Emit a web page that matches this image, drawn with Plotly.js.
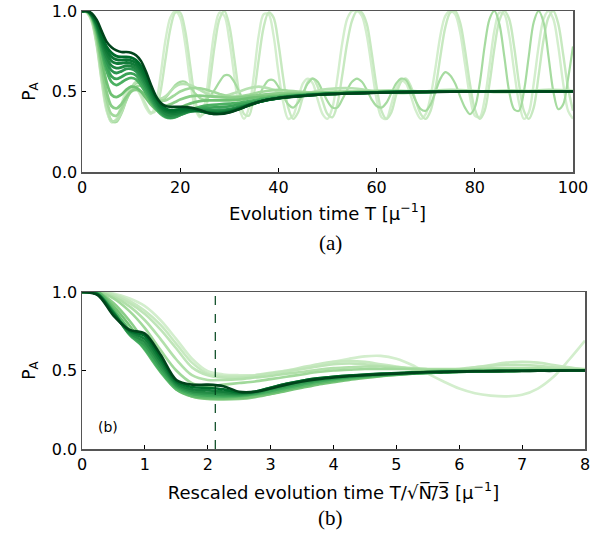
<!DOCTYPE html>
<html>
<head>
<meta charset="utf-8">
<script src="https://cdn.plot.ly/plotly-3.0.1.min.js"></script>
<style>html,body{margin:0;padding:0;background:#fff;}#chart{width:613px;height:539px;}</style>
</head>
<body>
<div id="chart"></div>
<script>
// ---------------- Panel (a): evolution time T ----------------
const tA = [0,1,2,3,4,5,6,7,8,9,10,11,12,13,14,15,16,17,18,19,20,
  22,24,26,28,30,32,34,36,38,40,42,44,46,48,50,
  55,60,65,70,75,80,85,90,95,100];
const tAfine = Array.from({length: 101}, (_, i) => i);

const aL1 = [1.0,0.99,0.93,0.78,0.56,0.38,0.31,0.33,0.42,0.5,
  0.53,0.52,0.47,0.4,0.36,0.42,0.6,0.82,0.96,1.0,
  0.96,0.8,0.57,0.4,0.34,0.42,0.65,0.88,0.99,0.97,
  0.82,0.6,0.4,0.33,0.4,0.6,0.85,0.98,0.98,0.85,
  0.62,0.43,0.33,0.35,0.45,0.55,0.58,0.55,0.45,0.36,
  0.33,0.4,0.58,0.8,0.95,1.0,1.0,0.97,0.85,0.65,
  0.45,0.34,0.33,0.42,0.52,0.57,0.55,0.47,0.38,0.33,
  0.36,0.47,0.65,0.85,0.97,1.0,0.98,0.87,0.67,0.47,
  0.35,0.34,0.45,0.66,0.88,0.99,0.98,0.85,0.63,0.43,
  0.33,0.37,0.55,0.78,0.95,1.0,0.95,0.78,0.55,0.38,
  0.33];
const aL2 = [1,0.99,0.935,0.79,0.57,0.39,0.31,0.32,0.4,0.48,
  0.52,0.52,0.48,0.42,0.37,0.38,0.5,0.7,0.89,0.99,
  0.99,0.88,0.67,0.46,0.35,0.37,0.55,0.78,0.95,1.0,
  0.91,0.71,0.49,0.36,0.35,0.48,0.7,0.9,0.99,0.96,
  0.8,0.58,0.4,0.33,0.37,0.47,0.56,0.58,0.53,0.44,
  0.36,0.34,0.42,0.6,0.8,0.94,1.0,0.99,0.92,0.74,
  0.53,0.38,0.33,0.37,0.48,0.56,0.58,0.53,0.44,0.36,
  0.33,0.38,0.52,0.72,0.9,0.99,1.0,0.93,0.76,0.55,
  0.39,0.33,0.38,0.55,0.77,0.94,1.0,0.95,0.78,0.55,
  0.38,0.33,0.4,0.6,0.82,0.96,1.0,0.92,0.73,0.52,
  0.38];
const aL3 = [1,0.99,0.94,0.8,0.6,0.42,0.32,0.31,0.36,0.44,
  0.51,0.55,0.55,0.52,0.48,0.45,0.44,0.46,0.5,0.54,
  0.56,0.56,0.53,0.49,0.46,0.45,0.47,0.51,0.56,0.6,
  0.6,0.56,0.5,0.44,0.41,0.42,0.47,0.53,0.57,0.57,
  0.53,0.47,0.42,0.4,0.43,0.49,0.55,0.58,0.56,0.5,
  0.44,0.4,0.4,0.45,0.51,0.56,0.58,0.56,0.51,0.45,
  0.41,0.4,0.43,0.49,0.55,0.58,0.57,0.51,0.44,0.39,
  0.38,0.42,0.5,0.58,0.62,0.6,0.55,0.47,0.4,0.36,
  0.4,0.55,0.78,0.95,1.0,0.92,0.72,0.5,0.39,0.38,
  0.5,0.72,0.93,1.0,0.93,0.72,0.5,0.39,0.42,0.58,
  0.78];

const aC1 = [1,1,0.945,0.8,0.59,0.41,0.32,0.32,0.37,0.45,0.52,0.56,0.56,0.53,0.49,0.46,0.455,0.47,0.5,0.53,0.545,
  0.54,0.51,0.48,0.47,0.48,0.5,0.52,0.53,0.52,0.5,0.485,0.48,0.49,0.505,0.515,
  0.52,0.5,0.49,0.5,0.51,0.505,0.495,0.5,0.51,0.505];
const aC2 = [1,1,0.95,0.82,0.62,0.45,0.36,0.35,0.39,0.45,0.5,0.53,0.535,0.52,0.49,0.46,0.445,0.445,0.46,0.48,0.5,
  0.52,0.52,0.505,0.485,0.47,0.47,0.48,0.495,0.505,0.51,0.505,0.5,0.495,0.495,0.498,
  0.5,0.505,0.505,0.5,0.5,0.5,0.505,0.505,0.5,0.5];
const aC3 = [1,1,0.955,0.84,0.66,0.5,0.41,0.395,0.42,0.465,0.5,0.51,0.5,0.475,0.445,0.42,0.41,0.41,0.42,0.435,0.45,
  0.47,0.475,0.47,0.465,0.46,0.463,0.47,0.478,0.484,0.488,0.49,0.49,0.49,0.492,0.494,
  0.497,0.5,0.5,0.5,0.5,0.5,0.5,0.5,0.5,0.5];
const aC4 = [1,1,0.96,0.86,0.7,0.56,0.48,0.465,0.48,0.51,0.53,0.525,0.5,0.46,0.42,0.39,0.37,0.365,0.37,0.385,0.4,
  0.425,0.44,0.445,0.445,0.445,0.45,0.458,0.465,0.47,0.475,0.48,0.483,0.485,0.488,0.49,
  0.493,0.496,0.498,0.5,0.5,0.5,0.5,0.5,0.5,0.5];
const aC5 = [1,1,0.965,0.88,0.75,0.63,0.56,0.54,0.555,0.575,0.585,0.575,0.54,0.49,0.44,0.395,0.36,0.34,0.335,0.34,0.355,
  0.385,0.405,0.415,0.42,0.425,0.43,0.44,0.45,0.46,0.467,0.472,0.477,0.481,0.484,0.487,
  0.49,0.494,0.496,0.498,0.5,0.5,0.5,0.5,0.5,0.5];
const aC5b = [1,1,0.968,0.89,0.77,0.66,0.595,0.578,0.59,0.608,0.612,0.6,0.562,0.51,0.455,0.405,0.368,0.345,0.338,0.342,0.355,
  0.38,0.395,0.4,0.402,0.408,0.418,0.43,0.442,0.454,0.462,0.469,0.474,0.479,0.482,0.486,
  0.49,0.494,0.496,0.498,0.5,0.5,0.5,0.5,0.5,0.5];
const aC6 = [1,1,0.97,0.9,0.79,0.69,0.63,0.615,0.625,0.64,0.64,0.625,0.585,0.53,0.47,0.415,0.375,0.35,0.34,0.345,0.355,
  0.375,0.385,0.385,0.385,0.39,0.405,0.42,0.435,0.448,0.458,0.466,0.472,0.477,0.481,0.485,
  0.49,0.494,0.497,0.498,0.5,0.5,0.5,0.5,0.5,0.5];
const aC6b = [1,1,0.972,0.91,0.805,0.715,0.66,0.645,0.65,0.66,0.658,0.642,0.605,0.55,0.488,0.43,0.388,0.362,0.352,0.355,0.362,
  0.378,0.382,0.378,0.376,0.384,0.4,0.418,0.435,0.449,0.459,0.467,0.472,0.477,0.481,0.485,
  0.49,0.494,0.497,0.498,0.5,0.5,0.5,0.5,0.5,0.5];
const aC7 = [1,1,0.975,0.92,0.82,0.74,0.69,0.675,0.675,0.68,0.675,0.66,0.625,0.57,0.505,0.445,0.4,0.375,0.365,0.365,0.37,
  0.38,0.378,0.37,0.368,0.378,0.395,0.415,0.435,0.45,0.46,0.468,0.473,0.478,0.482,0.485,
  0.49,0.494,0.497,0.498,0.5,0.5,0.5,0.5,0.5,0.5];
const aC7b = [1,1,0.978,0.925,0.835,0.76,0.715,0.698,0.695,0.698,0.692,0.678,0.642,0.585,0.518,0.455,0.41,0.385,0.375,0.375,0.38,
  0.385,0.379,0.368,0.365,0.375,0.394,0.415,0.435,0.45,0.459,0.466,0.472,0.477,0.481,0.485,
  0.49,0.494,0.497,0.498,0.5,0.5,0.5,0.5,0.5,0.5];
const aC8 = [1,1,0.98,0.93,0.85,0.78,0.74,0.72,0.715,0.715,0.71,0.695,0.66,0.6,0.53,0.465,0.42,0.395,0.385,0.385,0.39,
  0.39,0.38,0.365,0.362,0.372,0.392,0.415,0.435,0.45,0.458,0.465,0.47,0.475,0.48,0.484,
  0.49,0.493,0.496,0.498,0.5,0.5,0.5,0.5,0.5,0.5];
const aC9 = [1,1,0.985,0.945,0.875,0.81,0.775,0.755,0.745,0.745,0.74,0.725,0.69,0.625,0.545,0.475,0.43,0.41,0.405,0.405,0.405,
  0.4,0.385,0.365,0.36,0.37,0.39,0.415,0.435,0.45,0.46,0.465,0.47,0.475,0.48,0.483,
  0.488,0.492,0.495,0.497,0.498,0.5,0.5,0.5,0.5,0.5];

// ---------------- Panel (b): rescaled time T/sqrt(N/3) ----------------
const tB = [0,0.25,0.5,0.75,1,1.25,1.5,1.75,2,2.25,2.5,2.75,3,3.25,3.5,3.75,4,
  4.25,4.5,4.75,5,5.25,5.5,5.75,6,6.25,6.5,6.75,7,7.25,7.5,7.75,8];
const bL1 = [1,1,0.99,0.96,0.91,0.82,0.7,0.575,0.495,0.475,0.47,0.47,0.48,0.495,0.51,0.53,0.555,
  0.575,0.59,0.593,0.575,0.535,0.48,0.43,0.385,0.355,0.34,0.335,0.345,0.385,0.46,0.57,0.69];
const bL2 = [1,1,0.985,0.945,0.88,0.79,0.67,0.55,0.48,0.465,0.465,0.47,0.485,0.5,0.52,0.54,0.555,
  0.56,0.555,0.54,0.525,0.51,0.5,0.5,0.505,0.52,0.535,0.55,0.555,0.55,0.535,0.52,0.505];
const bL3 = [1,1,0.98,0.93,0.86,0.76,0.64,0.52,0.47,0.455,0.455,0.465,0.48,0.495,0.51,0.525,0.54,
  0.545,0.54,0.53,0.52,0.51,0.505,0.505,0.51,0.52,0.53,0.535,0.535,0.53,0.52,0.515,0.51];
const bL4 = [1,1,0.97,0.91,0.82,0.7,0.57,0.47,0.44,0.44,0.445,0.455,0.465,0.48,0.49,0.505,0.515,
  0.52,0.525,0.525,0.52,0.515,0.51,0.51,0.51,0.51,0.515,0.515,0.515,0.515,0.51,0.51,0.505];
const bL5 = [1,1,0.96,0.88,0.77,0.63,0.5,0.42,0.4,0.41,0.42,0.43,0.445,0.46,0.475,0.49,0.5,
  0.505,0.51,0.51,0.51,0.508,0.505,0.505,0.505,0.505,0.505,0.505,0.505,0.505,0.505,0.505,0.505];
const bD9 = [1,1,0.93,0.82,0.68,0.52,0.39,0.335,0.318,0.315,0.318,0.33,0.35,0.375,0.4,0.42,0.435,
  0.45,0.46,0.47,0.48,0.49,0.495,0.5,0.5,0.502,0.502,0.502,0.502,0.502,0.502,0.502,0.502];
const bD8 = [1,1,0.91,0.79,0.65,0.5,0.38,0.335,0.322,0.32,0.325,0.335,0.35,0.37,0.39,0.41,0.425,
  0.44,0.452,0.463,0.472,0.48,0.486,0.49,0.494,0.497,0.498,0.5,0.5,0.5,0.5,0.5,0.5];
const bD7 = [1,1,0.89,0.76,0.63,0.49,0.38,0.34,0.33,0.33,0.335,0.345,0.36,0.38,0.4,0.42,0.435,
  0.448,0.458,0.466,0.473,0.479,0.484,0.488,0.491,0.494,0.496,0.497,0.498,0.499,0.5,0.5,0.5];
const bD6 = [1,0.99,0.875,0.73,0.64,0.5,0.39,0.35,0.34,0.337,0.34,0.35,0.37,0.39,0.41,0.43,0.445,
  0.455,0.463,0.47,0.476,0.481,0.485,0.488,0.491,0.493,0.495,0.496,0.497,0.498,0.499,0.5,0.5];
const bD5 = [1,0.99,0.87,0.735,0.66,0.52,0.4,0.36,0.35,0.345,0.345,0.355,0.38,0.4,0.42,0.438,0.45,
  0.46,0.467,0.473,0.478,0.482,0.486,0.489,0.492,0.494,0.495,0.497,0.498,0.499,0.5,0.5,0.5];
const bD4 = [1,0.985,0.87,0.74,0.68,0.54,0.41,0.37,0.36,0.355,0.35,0.36,0.385,0.41,0.43,0.445,0.455,
  0.464,0.47,0.476,0.48,0.484,0.487,0.49,0.492,0.494,0.496,0.497,0.498,0.499,0.5,0.5,0.5];
const bD3 = [1,0.985,0.865,0.75,0.7,0.56,0.42,0.38,0.375,0.365,0.355,0.365,0.39,0.415,0.435,0.45,0.46,
  0.467,0.473,0.478,0.482,0.486,0.489,0.491,0.493,0.495,0.496,0.497,0.498,0.499,0.5,0.5,0.5];
const bD2 = [1,0.985,0.86,0.755,0.72,0.58,0.43,0.395,0.39,0.38,0.36,0.365,0.39,0.415,0.435,0.45,0.46,
  0.468,0.474,0.48,0.484,0.488,0.49,0.493,0.495,0.496,0.497,0.498,0.498,0.499,0.5,0.5,0.5];
const bD1 = [1,0.98,0.85,0.76,0.735,0.6,0.44,0.41,0.41,0.4,0.365,0.365,0.385,0.41,0.43,0.445,0.455,
  0.465,0.47,0.475,0.48,0.485,0.49,0.49,0.493,0.495,0.495,0.497,0.497,0.498,0.498,0.5,0.5];

const markerT = 2.12;
const yTicks = [0, 0.5, 1.0];
const yTickText = ['0.0', '0.5', '1.0'];
const xTicksA = [0, 20, 40, 60, 80, 100];
const xTicksB = [0, 1, 2, 3, 4, 5, 6, 7, 8];

const seriesA = [
  {x: tAfine, y: aL1, c: '#d3eecd', w: 2.4},
  {x: tAfine, y: aL2, c: '#c7e9c0', w: 2.4},
  {x: tAfine, y: aL3, c: '#a6dba0', w: 2.2},
  {x: tA, y: aC1, c: '#b7e2b1', w: 2.6},
  {x: tA, y: aC2, c: '#a1d99b', w: 2.6},
  {x: tA, y: aC3, c: '#8ace88', w: 2.8},
  {x: tA, y: aC4, c: '#6fc173', w: 2.8},
  {x: tA, y: aC5, c: '#4bb062', w: 2.8},
  {x: tA, y: aC5b, c: '#3aa357', w: 2.8},
  {x: tA, y: aC6, c: '#2b9450', w: 2.8},
  {x: tA, y: aC6b, c: '#1f8742', w: 2.8},
  {x: tA, y: aC7, c: '#137c3a', w: 2.8},
  {x: tA, y: aC7b, c: '#0a7433', w: 2.8},
  {x: tA, y: aC8, c: '#006d2c', w: 2.8},
  {x: tA, y: aC9, c: '#00441b', w: 2.6}
];
const seriesB = [
  {y: bL1, c: '#d3eecd'},
  {y: bL2, c: '#c7e9c0'},
  {y: bL3, c: '#bfe5b8'},
  {y: bL4, c: '#b2e0ab'},
  {y: bL5, c: '#a1d99b'},
  {y: bD9, c: '#8ace88'},
  {y: bD8, c: '#74c476'},
  {y: bD7, c: '#5bb86a'},
  {y: bD6, c: '#41ab5d'},
  {y: bD5, c: '#329b51'},
  {y: bD4, c: '#238b45'},
  {y: bD3, c: '#137c3a'},
  {y: bD2, c: '#006d2c'},
  {y: bD1, c: '#00441b'}
];
const traces = [];
seriesA.forEach(s => traces.push({
  type: 'scatter', mode: 'lines', x: s.x, y: s.y, xaxis: 'x', yaxis: 'y',
  line: {color: s.c, width: s.w, shape: 'spline', smoothing: 0.9}, hoverinfo: 'skip', showlegend: false
}));
seriesB.forEach(s => traces.push({
  type: 'scatter', mode: 'lines', x: tB, y: s.y, xaxis: 'x2', yaxis: 'y2',
  line: {color: s.c, width: 2.6, shape: 'spline', smoothing: 0.9}, hoverinfo: 'skip', showlegend: false
}));

const FAM = 'DejaVu Sans';
const axisCommon = {
  showline: true, linecolor: '#555', linewidth: 1.5, mirror: true,
  ticks: 'inside', ticklen: 4, tickwidth: 1, tickcolor: '#000',
  showgrid: false, zeroline: false, tickfont: {family: FAM, size: 16, color: '#000'}
};

const layout = {
  width: 613, height: 539,
  margin: {l: 0, r: 0, t: 0, b: 0},
  paper_bgcolor: '#fff', plot_bgcolor: '#fff',
  font: {family: FAM, size: 16, color: '#000'}, showlegend: false,
  xaxis: Object.assign({}, axisCommon, {
    domain: [82/613, 573/613], range: [0, 100], anchor: 'y',
    tickvals: xTicksA, ticktext: xTicksA.map(String),
    title: {text: 'Evolution time T [μ<sup>−1</sup>]', font: {family: FAM, size: 18}, standoff: 11}
  }),
  yaxis: Object.assign({}, axisCommon, {
    domain: [1 - 172/539, 1 - 11/539], range: [0, 1], anchor: 'x',
    tickvals: yTicks, ticktext: yTickText,
    title: {text: 'P<sub>A</sub>', font: {family: FAM, size: 17}, standoff: 12}
  }),
  xaxis2: Object.assign({}, axisCommon, {
    domain: [82/613, 585/613], range: [0, 8], anchor: 'y2',
    tickvals: xTicksB, ticktext: xTicksB.map(String),
    title: {text: 'Rescaled evolution time T/√N̅/̅3̅ [μ<sup>−1</sup>]', font: {family: FAM, size: 18}, standoff: 13}
  }),
  yaxis2: Object.assign({}, axisCommon, {
    domain: [1 - 449/539, 1 - 292/539], range: [0, 1], anchor: 'x2',
    tickvals: yTicks, ticktext: yTickText,
    title: {text: 'P<sub>A</sub>', font: {family: FAM, size: 17}, standoff: 12}
  }),
  shapes: [{
    type: 'line', xref: 'x2', yref: 'y2 domain', x0: markerT, x1: markerT, y0: 0, y1: 1,
    line: {color: '#00441b', width: 1.2, dash: 'dash'}
  }],
  annotations: [
    {text: '(a)', xref: 'paper', yref: 'paper', x: 330/613, y: 1 - 243/539, xanchor: 'center', yanchor: 'middle', showarrow: false,
     font: {family: 'Liberation Serif', size: 21, color: '#000'}},
    {text: '(b)', xref: 'paper', yref: 'paper', x: 330/613, y: 1 - 518/539, xanchor: 'center', yanchor: 'middle', showarrow: false,
     font: {family: 'Liberation Serif', size: 21, color: '#000'}},
    {text: '(b)', xref: 'x2', yref: 'y2', x: 0.42, y: 0.14, xanchor: 'center', yanchor: 'middle', showarrow: false,
     font: {family: FAM, size: 14, color: '#000'}}
  ]
};

Plotly.newPlot('chart', traces, layout, {staticPlot: true, displayModeBar: false});
</script>
</body>
</html>
